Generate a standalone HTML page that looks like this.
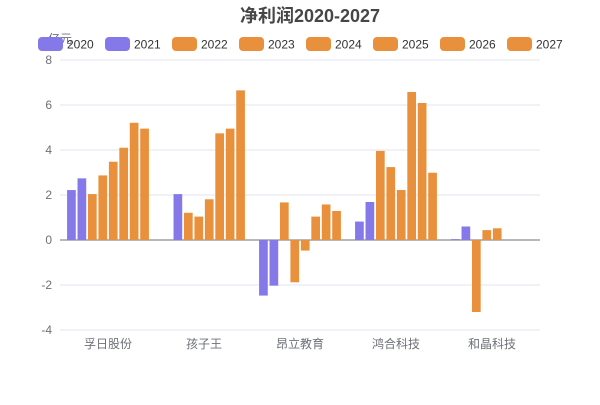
<!DOCTYPE html>
<html><head><meta charset="utf-8"><style>
body{margin:0;background:#fff;font-family:"Liberation Sans","Noto Sans CJK SC",sans-serif}
svg text{font-family:"Liberation Sans","Noto Sans CJK SC",sans-serif}
</style></head><body>
<svg id="c" width="600" height="400">
<text x="310" y="22" text-anchor="middle" font-size="18" font-weight="bold" fill="#464646">净利润2020-2027</text>
<text x="60" y="43" text-anchor="middle" font-size="12" fill="#6e7079">亿元</text>
<g id="grid"></g><g id="bars"></g><g id="legend"></g>
</svg>
<script>
const categories=["孚日股份","孩子王","昂立教育","鸿合科技","和晶科技"];
const series=["2020","2021","2022","2023","2024","2025","2026","2027"];
const colors=["#8579ea","#8579ea","#e8903c","#e8903c","#e8903c","#e8903c","#e8903c","#e8903c"];
const v2020=[2.22,null,-2.47,0.82,0.04];
const v2021=[2.74,2.04,-2.03,1.69,0.6];
const v2022=[2.04,1.21,1.67,3.96,-3.2];
const v2023=[2.87,1.04,-1.88,3.24,0.44];
const v2024=[3.48,1.81,-0.47,2.22,0.52];
const v2025=[4.1,4.74,1.04,6.58,null];
const v2026=[5.21,4.95,1.58,6.09,null];
const v2027=[4.95,6.65,1.29,2.99,null];
const values=[v2020,v2021,v2022,v2023,v2024,v2025,v2026,v2027];
const ticks=[-4,-2,0,2,4,6,8];
const NS="http://www.w3.org/2000/svg";
const L=60,R=540,T=60,B=330,ymin=-4,ymax=8;
const y=v=>B-(v-ymin)/(ymax-ymin)*(B-T);
const bw=(R-L)/categories.length, slot=10.45, barW=8.7;
const x=(ci,si)=>L+bw*(ci+0.5)+(si-3.5)*slot;
function mk(tag,attrs,parent){const e=document.createElementNS(NS,tag);for(const k in attrs)e.setAttribute(k,attrs[k]);parent.appendChild(e);return e;}
const grid=document.getElementById('grid');
ticks.forEach(t=>{
  const l=mk('line',{x1:L,x2:R,y1:y(t),y2:y(t),stroke:t===0?'#6e7079':'#e0e6f1','stroke-width':1},grid);
  
  
  const tx=mk('text',{x:L-8,y:y(t)+4,'text-anchor':'end','font-size':12,fill:'#6e7079'},grid);
  tx.textContent=t;
  
  
});
categories.forEach((c,i)=>{
  const tx=mk('text',{x:L+bw*(i+0.5),y:348,'text-anchor':'middle','font-size':12,fill:'#6e7079'},grid);
  tx.textContent=c;
  
  
});
const bars=document.getElementById('bars');
values.forEach((arr,si)=>arr.forEach((v,ci)=>{
  if(v===null)return;
  const top=Math.min(y(v),y(0)),h=Math.abs(y(v)-y(0));
  const r=mk('rect',{x:x(ci,si)-barW/2,y:top,width:barW,height:h,fill:colors[si]},bars);
  
  
}));
const lg=document.getElementById('legend');
series.forEach((s,i)=>{
  const lx=38+i*67;
  const r=mk('rect',{x:lx,y:37,width:25,height:14,rx:4,fill:colors[i]},lg);
  
  
  const t=mk('text',{x:lx+29,y:48.5,'font-size':12,fill:'#333'},lg);
  t.textContent=s;
  
  
});
</script>
</body></html>
